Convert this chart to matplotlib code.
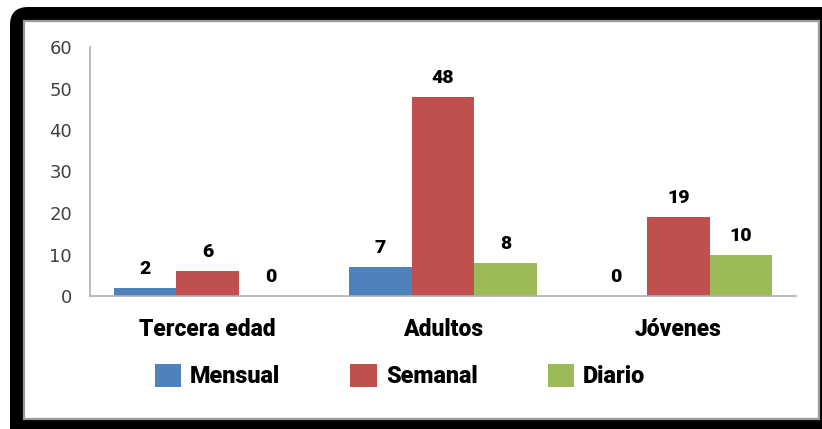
import matplotlib
matplotlib.use("Agg")
import matplotlib.pyplot as plt
from matplotlib.patches import FancyBboxPatch, Rectangle
import numpy as np

categories = ["Tercera edad", "Adultos", "Jóvenes"]
series_names = ["Mensual", "Semanal", "Diario"]
mensual = [2, 7, 0]
semanal = [6, 48, 19]
diario = [0, 8, 10]
colors = ["#4F81BD", "#C0504D", "#9BBB59"]
y_ticks = [0, 10, 20, 30, 40, 50, 60]

HEAVY = ["Roboto", "Lato", "DejaVu Sans"]

W, H = 822, 429
fig = plt.figure(figsize=(W / 100, H / 100), dpi=100)

# black rounded frame with inner white panel
frame = FancyBboxPatch((10 / W, -0.2), 1.2, (H - 7) / H + 0.2,
                       boxstyle="round,pad=0,rounding_size=0.022",
                       transform=fig.transFigure, facecolor="black",
                       edgecolor="none", zorder=0, mutation_aspect=W / H)
fig.patches.append(frame)
panel = Rectangle((24 / W, (H - 419) / H), (819 - 24) / W, (419 - 21) / H,
                  transform=fig.transFigure, facecolor="white",
                  edgecolor="#9a9a9a", linewidth=1.6, zorder=1)
fig.patches.append(panel)

ax = fig.add_axes([90 / W, (H - 296) / H, (796 - 90) / W, (296 - 47) / H])
ax.set_zorder(2)
ax.patch.set_alpha(0)

x = np.arange(len(categories))
bw = 0.8 / 3
data = [mensual, semanal, diario]
label_font = dict(family=HEAVY, fontweight="black", fontsize=14,
                  color="black")
for i, (vals, c, name) in enumerate(zip(data, colors, series_names)):
    pos = x + (i - 1) * bw
    ax.bar(pos, vals, width=bw, color=c, label=name, edgecolor="none")
    for p, v in zip(pos, vals):
        ax.annotate(str(v), (p, v), xytext=(0, 7), textcoords="offset points",
                    ha="center", va="bottom", **label_font)

ax.set_xlim(-0.5, 2.5)
ax.set_ylim(0, 60)
ax.set_yticks(y_ticks)
ax.set_yticklabels([str(t) for t in y_ticks], fontsize=13, color="#404040",
                   family="DejaVu Sans")
ax.set_xticks(x)
ax.set_xticklabels(categories, fontsize=16.5, fontweight="black",
                   family=HEAVY, color="black")
ax.tick_params(axis="y", length=0, pad=13)
ax.tick_params(axis="x", length=0, pad=16)
for s in ["top", "right"]:
    ax.spines[s].set_visible(False)
for s in ["left", "bottom"]:
    ax.spines[s].set_color("#b0b0b0")
    ax.spines[s].set_linewidth(1.2)

leg = fig.legend(loc="center", bbox_to_anchor=(400 / W, (H - 376) / H),
                 ncol=3, frameon=False,
                 prop=dict(family=HEAVY, weight="black", size=16.8),
                 handlelength=1.12, handleheight=1.12, handletextpad=0.4,
                 columnspacing=3.0)
leg.set_zorder(3)

fig.savefig("out.png", dpi=100)
